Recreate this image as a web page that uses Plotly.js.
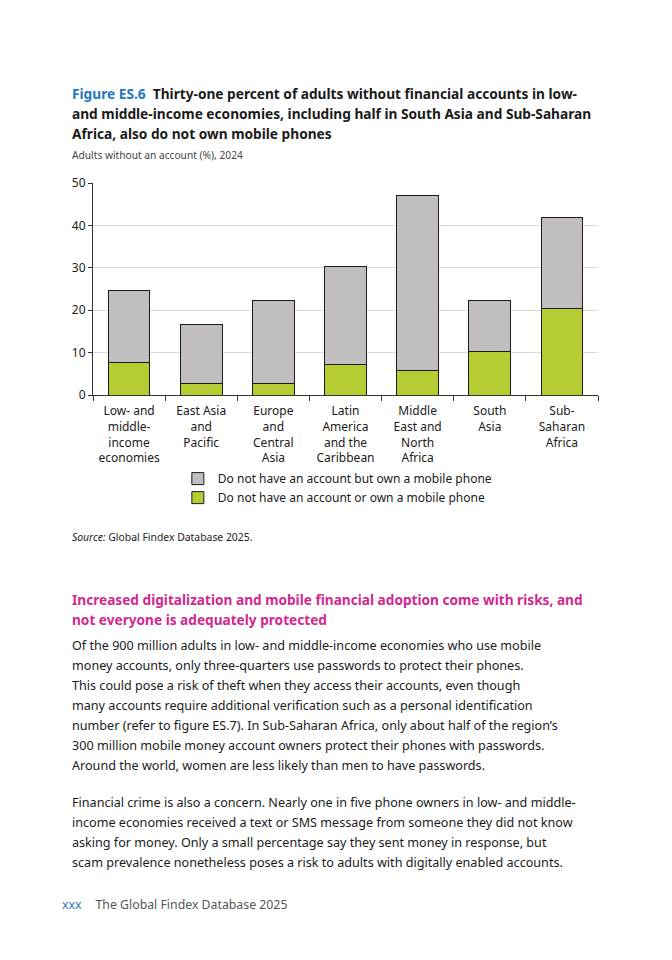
<!DOCTYPE html>
<html>
<head>
<meta charset="utf-8">
<script src="https://cdn.plot.ly/plotly-3.0.1.min.js"></script>
<style>
  html, body { margin: 0; padding: 0; background: #fff; }
  body { width: 672px; height: 960px; position: relative; overflow: hidden; font-family: "Noto Sans", sans-serif; color: #1a1a1a; }
  .t { position: absolute; left: 72px; white-space: nowrap; }
  #title { top: 84px; font-size: 13.7px; line-height: 20px; font-weight: 700; color: #1a1a1a; }
  #title .fig { color: #1f78c1; }
  #subtitle { top: 148px; font-size: 10.2px; line-height: 14px; color: #444; }
  #source { top: 530px; font-size: 10.4px; line-height: 14px; color: #222; }
  #heading { top: 590px; font-size: 13.65px; line-height: 20px; font-weight: 700; color: #d1288f; }
  #p1 { top: 636px; font-size: 12.6px; line-height: 20px; color: #1a1a1a; }
  #p2 { top: 793px; font-size: 12.6px; line-height: 20px; color: #1a1a1a; }
  #footer { top: 897px; left: 62px; font-size: 12.3px; line-height: 16px; color: #555; }
  #footer .pg { color: #1f78c1; margin-right: 14px; }
  #chart { position: absolute; left: 0; top: 170px; width: 672px; height: 400px; }
</style>
</head>
<body>
<div class="t" id="title"><span class="fig">Figure ES.6</span>&nbsp; Thirty-one percent of adults without financial accounts in low-<br>and middle-income economies, including half in South Asia and Sub-Saharan<br>Africa, also do not own mobile phones</div>
<div class="t" id="subtitle">Adults without an account (%), 2024</div>
<div id="chart"></div>
<div class="t" id="source"><i>Source:</i> Global Findex Database 2025.</div>
<div class="t" id="heading">Increased digitalization and mobile financial adoption come with risks, and<br>not everyone is adequately protected</div>
<div class="t" id="p1">Of the 900 million adults in low- and middle-income economies who use mobile<br>money accounts, only three-quarters use passwords to protect their phones.<br>This could pose a risk of theft when they access their accounts, even though<br>many accounts require additional verification such as a personal identification<br>number (refer to figure ES.7). In Sub-Saharan Africa, only about half of the region’s<br>300 million mobile money account owners protect their phones with passwords.<br>Around the world, women are less likely than men to have passwords.</div>
<div class="t" id="p2">Financial crime is also a concern. Nearly one in five phone owners in low- and middle-<br>income economies received a text or SMS message from someone they did not know<br>asking for money. Only a small percentage say they sent money in response, but<br>scam prevalence nonetheless poses a risk to adults with digitally enabled accounts.</div>
<div class="t" id="footer"><span class="pg">xxx</span>The Global Findex Database 2025</div>
<script>
const categories = [
  "Low- and middle-income economies",
  "East Asia and Pacific",
  "Europe and Central Asia",
  "Latin America and the Caribbean",
  "Middle East and North Africa",
  "South Asia",
  "Sub-Saharan Africa"
];
const tickLabels = [
  "Low- and<br>middle-<br>income<br>economies",
  "East Asia<br>and<br>Pacific",
  "Europe<br>and<br>Central<br>Asia",
  "Latin<br>America<br>and the<br>Caribbean",
  "Middle<br>East and<br>North<br>Africa",
  "South<br>Asia",
  "Sub-<br>Saharan<br>Africa"
];
// Do not have an account or own a mobile phone (bottom, green)
const noAccountNoPhone = [7.6, 2.8, 2.6, 7.3, 5.7, 10.3, 20.3];
// Do not have an account but own a mobile phone (top, grey)
const noAccountOwnPhone = [17.0, 13.9, 19.6, 23.0, 41.4, 12.1, 21.5];
const seriesNames = [
  "Do not have an account or own a mobile phone",
  "Do not have an account but own a mobile phone"
];

const tickFont = {family: "Noto Sans, sans-serif", size: 12, color: "#1a1a1a"};
const traces = [
  {type: "bar", name: seriesNames[0], x: categories, y: noAccountNoPhone,
   marker: {color: "#b7cb33", line: {color: "#1a1a1a", width: 1}}, hoverinfo: "skip"},
  {type: "bar", name: seriesNames[1], x: categories, y: noAccountOwnPhone,
   marker: {color: "#c2bebf", line: {color: "#1a1a1a", width: 1}}, hoverinfo: "skip"}
];
const layout = {
  width: 672, height: 400,
  margin: {l: 93, r: 74, t: 13, b: 175},
  paper_bgcolor: "rgba(0,0,0,0)", plot_bgcolor: "rgba(0,0,0,0)",
  font: tickFont,
  barmode: "stack", bargap: 0.42,
  showlegend: true,
  legend: {orientation: "v", x: 0.168, xanchor: "left", y: -0.326, yanchor: "top",
           font: tickFont, traceorder: "reversed", itemwidth: 30, tracegroupgap: 0},
  xaxis: {type: "category", tickmode: "array", tickvals: categories, ticktext: tickLabels,
          tickson: "boundaries", ticks: "outside", ticklen: 5, tickcolor: "#333",
          ticklabelstandoff: 5, automargin: false,
          showline: true, linecolor: "#333", linewidth: 1, showgrid: false,
          tickfont: tickFont, fixedrange: true},
  yaxis: {range: [0, 50], dtick: 10, tick0: 0, ticks: "outside", ticklen: 4, tickcolor: "#333",
          showline: true, linecolor: "#333", linewidth: 1, showgrid: true, gridcolor: "#d9d9d9",
          gridwidth: 1, zeroline: false, automargin: false,
          tickfont: tickFont, fixedrange: true}
};
Plotly.newPlot("chart", traces, layout, {displayModeBar: false, staticPlot: true});
</script>
</body>
</html>
